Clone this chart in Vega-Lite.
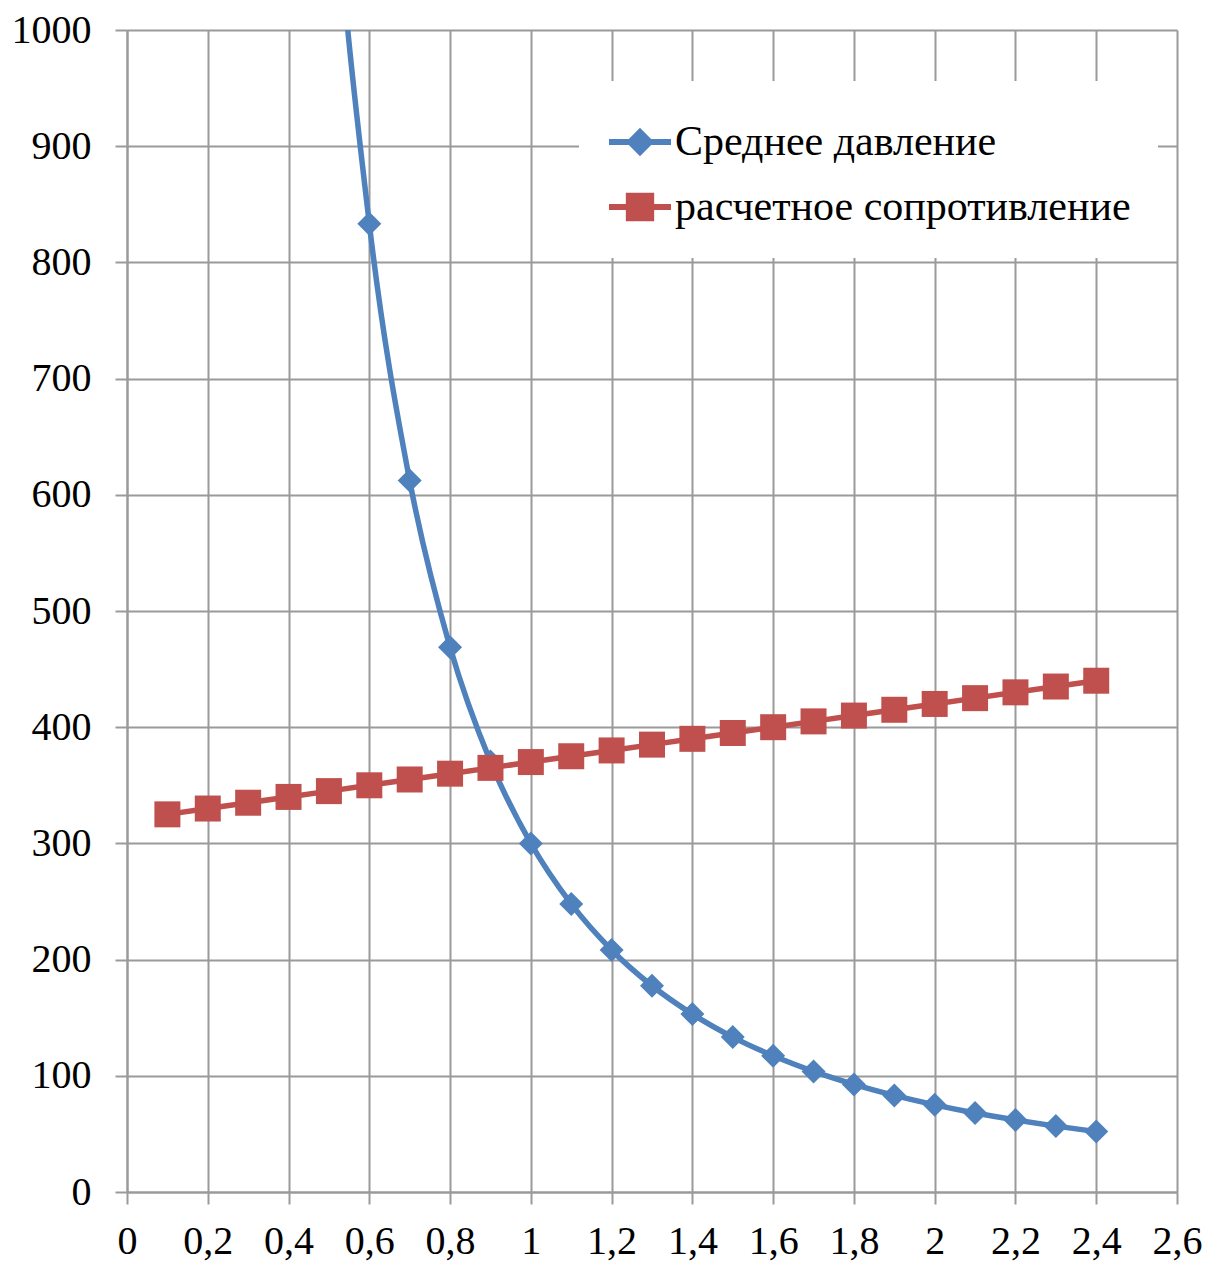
{
  "$schema": "https://vega.github.io/schema/vega-lite/v6.json",
  "width": 1050,
  "height": 1162,
  "autosize": {"type": "none"},
  "padding": {"left": 127, "top": 30, "right": 31, "bottom": 69},
  "background": "white",
  "config": {
    "font": "Liberation Serif",
    "view": {"stroke": null},
    "axis": {
      "labelFont": "Liberation Serif",
      "labelFontSize": 40,
      "labelColor": "#000000",
      "gridColor": "#9a9a9a",
      "gridWidth": 2,
      "domainColor": "#9a9a9a",
      "domainWidth": 2,
      "tickColor": "#9a9a9a",
      "tickWidth": 2,
      "tickSize": 12,
      "title": null
    },
    "legend": {
      "labelFont": "Liberation Serif",
      "labelFontSize": 42,
      "labelColor": "#000000",
      "labelLimit": 0
    }
  },
  "data": {
    "values": [
      {"x": 0.1, "series": "Среднее давление", "value": 30000},
      {"x": 0.2, "series": "Среднее давление", "value": 7500},
      {"x": 0.3, "series": "Среднее давление", "value": 3333.3},
      {"x": 0.4, "series": "Среднее давление", "value": 1875},
      {"x": 0.5, "series": "Среднее давление", "value": 1200},
      {"x": 0.6, "series": "Среднее давление", "value": 833.3},
      {"x": 0.7, "series": "Среднее давление", "value": 612.2},
      {"x": 0.8, "series": "Среднее давление", "value": 468.8},
      {"x": 0.9, "series": "Среднее давление", "value": 370.4},
      {"x": 1.0, "series": "Среднее давление", "value": 300},
      {"x": 1.1, "series": "Среднее давление", "value": 247.9},
      {"x": 1.2, "series": "Среднее давление", "value": 208.3},
      {"x": 1.3, "series": "Среднее давление", "value": 177.5},
      {"x": 1.4, "series": "Среднее давление", "value": 153.1},
      {"x": 1.5, "series": "Среднее давление", "value": 133.3},
      {"x": 1.6, "series": "Среднее давление", "value": 117.2},
      {"x": 1.7, "series": "Среднее давление", "value": 103.8},
      {"x": 1.8, "series": "Среднее давление", "value": 92.6},
      {"x": 1.9, "series": "Среднее давление", "value": 83.1},
      {"x": 2.0, "series": "Среднее давление", "value": 75},
      {"x": 2.1, "series": "Среднее давление", "value": 68},
      {"x": 2.2, "series": "Среднее давление", "value": 62},
      {"x": 2.3, "series": "Среднее давление", "value": 56.7},
      {"x": 2.4, "series": "Среднее давление", "value": 52.1},
      {"x": 0.1, "series": "расчетное сопротивление", "value": 325},
      {"x": 0.2, "series": "расчетное сопротивление", "value": 330},
      {"x": 0.3, "series": "расчетное сопротивление", "value": 335},
      {"x": 0.4, "series": "расчетное сопротивление", "value": 340},
      {"x": 0.5, "series": "расчетное сопротивление", "value": 345},
      {"x": 0.6, "series": "расчетное сопротивление", "value": 350},
      {"x": 0.7, "series": "расчетное сопротивление", "value": 355},
      {"x": 0.8, "series": "расчетное сопротивление", "value": 360},
      {"x": 0.9, "series": "расчетное сопротивление", "value": 365},
      {"x": 1.0, "series": "расчетное сопротивление", "value": 370},
      {"x": 1.1, "series": "расчетное сопротивление", "value": 375},
      {"x": 1.2, "series": "расчетное сопротивление", "value": 380},
      {"x": 1.3, "series": "расчетное сопротивление", "value": 385},
      {"x": 1.4, "series": "расчетное сопротивление", "value": 390},
      {"x": 1.5, "series": "расчетное сопротивление", "value": 395},
      {"x": 1.6, "series": "расчетное сопротивление", "value": 400},
      {"x": 1.7, "series": "расчетное сопротивление", "value": 405},
      {"x": 1.8, "series": "расчетное сопротивление", "value": 410},
      {"x": 1.9, "series": "расчетное сопротивление", "value": 415},
      {"x": 2.0, "series": "расчетное сопротивление", "value": 420},
      {"x": 2.1, "series": "расчетное сопротивление", "value": 425},
      {"x": 2.2, "series": "расчетное сопротивление", "value": 430},
      {"x": 2.3, "series": "расчетное сопротивление", "value": 435},
      {"x": 2.4, "series": "расчетное сопротивление", "value": 440}
    ]
  },
  "encoding": {
    "x": {
      "field": "x",
      "type": "quantitative",
      "scale": {"domain": [0, 2.6], "nice": false, "zero": false},
      "axis": {
        "values": [0, 0.2, 0.4, 0.6, 0.8, 1, 1.2, 1.4, 1.6, 1.8, 2, 2.2, 2.4, 2.6],
        "labelExpr": "replace(format(datum.value, '~g'), '.', ',')",
        "labelPadding": 17,
        "labelFlush": false,
        "labelOverlap": false
      }
    },
    "y": {
      "field": "value",
      "type": "quantitative",
      "scale": {"domain": [0, 1000], "nice": false},
      "axis": {
        "values": [0, 100, 200, 300, 400, 500, 600, 700, 800, 900, 1000],
        "format": "d",
        "labelPadding": 24,
        "labelFlush": false,
        "labelOverlap": false
      }
    },
    "color": {
      "field": "series",
      "type": "nominal",
      "scale": {
        "domain": ["Среднее давление", "расчетное сопротивление"],
        "range": ["#4F81BD", "#C0504D"]
      },
      "legend": {
        "title": null,
        "orient": "none",
        "legendX": 452,
        "legendY": 51,
        "fillColor": "white",
        "padding": 27,
        "rowPadding": 9,
        "labelOffset": 1,
        "symbolSize": 3844,
        "symbolStrokeWidth": 6,
        "encode": {
          "symbols": {
            "update": {
              "shape": {"signal": "datum.value == 'Среднее давление' ? 'M-1,0L1,0M0,-0.32L0.32,0L0,0.32L-0.32,0Z' : 'M-1,0L1,0M-0.36,-0.36L0.36,-0.36L0.36,0.36L-0.36,0.36Z'"},
              "fill": {"signal": "datum.value == 'Среднее давление' ? '#4F81BD' : '#C0504D'"},
              "stroke": {"signal": "datum.value == 'Среднее давление' ? '#4F81BD' : '#C0504D'"},
              "strokeWidth": {"value": 6},
              "opacity": {"value": 1}
            }
          }
        }
      }
    }
  },
  "layer": [
    {
      "transform": [{"filter": "datum.series == 'Среднее давление'"}],
      "mark": {"type": "line", "interpolate": "monotone", "strokeWidth": 5.5, "clip": true}
    },
    {
      "transform": [{"filter": "datum.series == 'Среднее давление'"}],
      "mark": {"type": "point", "shape": "diamond", "filled": true, "size": 576, "opacity": 1, "clip": true}
    },
    {
      "transform": [{"filter": "datum.series == 'расчетное сопротивление'"}],
      "mark": {"type": "line", "strokeWidth": 5.5, "clip": true}
    },
    {
      "transform": [{"filter": "datum.series == 'расчетное сопротивление'"}],
      "mark": {"type": "point", "shape": "square", "filled": true, "size": 676, "opacity": 1, "clip": true}
    }
  ]
}
